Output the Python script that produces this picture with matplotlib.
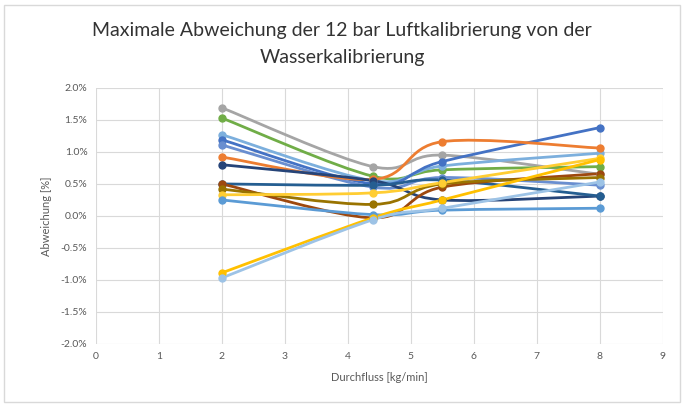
import numpy as np
import matplotlib
matplotlib.use("Agg")
import matplotlib.pyplot as plt
from matplotlib.path import Path
from matplotlib.patches import PathPatch, Rectangle
from matplotlib.ticker import FuncFormatter

plt.rcParams['font.family'] = ['Lato', 'DejaVu Sans']

flow = [2.0, 4.4, 5.5, 8.0]

# Abweichung in % per series
s_gray = [1.69, 0.77, 0.95, 0.65]
s_green = [1.53, 0.62, 0.72, 0.77]
s_lblue = [1.27, 0.55, 0.78, 0.98]
s_blue = [1.19, 0.50, 0.85, 1.38]
s_mblue = [1.11, 0.45, 0.60, 0.48]
s_orange = [0.92, 0.57, 1.16, 1.06]
s_navy = [0.80, 0.55, 0.25, 0.31]
s_navy2 = [0.50, 0.48, 0.56, 0.31]
s_brown = [0.50, -0.03, 0.45, 0.66]
s_gold = [0.42, 0.18, 0.50, 0.60]
s_yellow = [0.33, 0.36, 0.52, 0.90]
s_sky = [0.25, 0.02, 0.09, 0.12]
s_yellow2 = [-0.89, -0.03, 0.25, 0.88]
s_sky2 = [-0.97, -0.06, 0.12, 0.53]

series = [
    (s_gray, '#A5A5A5'),
    (s_green, '#70AD47'),
    (s_lblue, '#7CAFDD'),
    (s_blue, '#4472C4'),
    (s_mblue, '#698ED0'),
    (s_orange, '#ED7D31'),
    (s_navy, '#264478'),
    (s_navy2, '#255E91'),
    (s_brown, '#9E480E'),
    (s_gold, '#997300'),
    (s_yellow, '#FFCD33'),
    (s_sky, '#5B9BD5'),
    (s_yellow2, '#FFC000'),
    (s_sky2, '#9DC3E6'),
]


def smooth_path(x, y):
    # Excel-like smoothed line: bezier segments with catmull-rom control points
    pts = np.column_stack([x, y])
    n = len(pts)
    verts = [pts[0]]
    codes = [Path.MOVETO]
    for i in range(n - 1):
        p0 = pts[i - 1] if i > 0 else pts[i]
        p1 = pts[i]
        p2 = pts[i + 1]
        p3 = pts[i + 2] if i + 2 < n else pts[i + 1]
        c1 = p1 + (p2 - p0) / 6.0
        c2 = p2 - (p3 - p1) / 6.0
        verts += [c1, c2, p2]
        codes += [Path.CURVE4] * 3
    return Path(verts, codes)


fig = plt.figure(figsize=(6.84, 4.07), dpi=100)
fig.patches.append(Rectangle((0.006, 0.012), 0.988, 0.975, transform=fig.transFigure,
                             fill=False, edgecolor='#D9D9D9', linewidth=1))
ax = fig.add_axes([0.140, 0.155, 0.829, 0.629])

for vals, col in series:
    yy = np.array(vals) / 100.0
    ax.add_patch(PathPatch(smooth_path(flow, yy), facecolor='none', edgecolor=col,
                           linewidth=2.0, zorder=3))
    ax.plot(flow, yy, 'o', color=col, markersize=5, zorder=4)

ax.set_xlim(0, 9)
ax.set_ylim(-0.02, 0.02)
ax.set_xticks(range(0, 10))
ax.set_yticks(np.arange(-0.02, 0.0201, 0.005))
ax.yaxis.set_major_formatter(FuncFormatter(lambda v, p: '%.1f%%' % (v * 100)))
ax.grid(True, color='#D9D9D9', linewidth=0.8)
ax.set_axisbelow(True)
for sp in ax.spines.values():
    sp.set_visible(False)
ax.tick_params(length=0, labelsize=7.5, labelcolor='#595959', pad=6)

ax.set_xlabel('Durchfluss [kg/min]', fontsize=8, color='#595959', labelpad=8)
ax.set_ylabel('Abweichung [%]', fontsize=8, color='#595959', labelpad=6)
fig.text(0.5, 0.925, 'Maximale Abweichung der 12 bar Luftkalibrierung von der',
         ha='center', va='center', fontsize=14, color='#333333')
fig.text(0.5, 0.858, 'Wasserkalibrierung', ha='center', va='center',
         fontsize=14, color='#333333')

fig.savefig('out.png', dpi=100)
